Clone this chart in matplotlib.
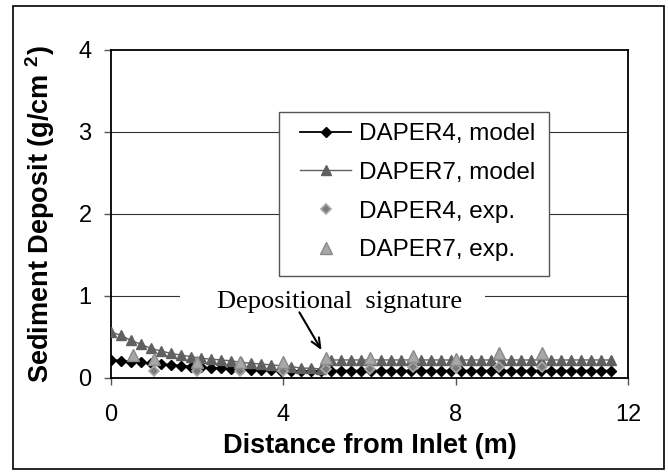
import matplotlib
matplotlib.use("Agg")
import matplotlib.pyplot as plt
from matplotlib.patches import Rectangle

plt.rcParams['font.family'] = ['Liberation Sans', 'DejaVu Sans']
plt.rcParams['mathtext.fontset'] = 'custom'
plt.rcParams['mathtext.rm'] = 'Liberation Sans'
plt.rcParams['mathtext.bf'] = 'Liberation Sans:bold'

# ---- data ----
x_model = [0.0, 0.23, 0.46, 0.70, 0.93, 1.16, 1.39, 1.62, 1.86, 2.09, 2.32, 2.55,
           2.78, 3.02, 3.25, 3.48, 3.71, 3.94, 4.18, 4.41, 4.64, 4.87, 5.10, 5.34,
           5.57, 5.80, 6.03, 6.26, 6.50, 6.73, 6.96, 7.19, 7.42, 7.66, 7.89, 8.12,
           8.35, 8.58, 8.82, 9.05, 9.28, 9.51, 9.74, 9.98, 10.21, 10.44, 10.67,
           10.90, 11.14, 11.37, 11.60]
daper4_model = [0.22, 0.21, 0.20, 0.19, 0.18, 0.17, 0.16, 0.15, 0.14, 0.13, 0.12, 0.12,
                0.11, 0.11, 0.10, 0.10, 0.10, 0.09, 0.09, 0.08, 0.08, 0.08, 0.09, 0.09,
                0.09, 0.09, 0.09, 0.09, 0.09, 0.09, 0.09, 0.09, 0.09, 0.09, 0.09, 0.09,
                0.09, 0.09, 0.09, 0.09, 0.09, 0.09, 0.09, 0.09, 0.09, 0.09, 0.09,
                0.09, 0.09, 0.09, 0.09]
daper7_model = [0.56, 0.52, 0.46, 0.41, 0.36, 0.33, 0.30, 0.28, 0.26, 0.24, 0.23, 0.22,
                0.21, 0.19, 0.18, 0.17, 0.16, 0.15, 0.14, 0.12, 0.12, 0.11, 0.22, 0.22,
                0.22, 0.22, 0.22, 0.22, 0.22, 0.22, 0.22, 0.22, 0.22, 0.22, 0.22, 0.22,
                0.22, 0.22, 0.22, 0.22, 0.22, 0.22, 0.22, 0.22, 0.22, 0.22, 0.22,
                0.22, 0.22, 0.22, 0.22]
x_exp4 = [1, 2, 3, 4, 5, 6, 7, 8, 9, 10]
daper4_exp = [0.08, 0.08, 0.08, 0.08, 0.11, 0.11, 0.13, 0.12, 0.13, 0.13]
x_exp7 = [0.5, 1, 2, 3, 4, 5, 6, 7, 8, 9, 10]
daper7_exp = [0.28, 0.23, 0.19, 0.20, 0.20, 0.24, 0.25, 0.27, 0.23, 0.30, 0.30]

labels = ['DAPER4, model', 'DAPER7, model', 'DAPER4, exp.', 'DAPER7, exp.']
x_ticks = [0, 4, 8, 12]
y_ticks = [0, 1, 2, 3, 4]
annot_text = 'Depositional  signature'

# ---- figure ----
W, H = 668, 476
fig = plt.figure(figsize=(W / 100, H / 100), dpi=100)
ax = fig.add_axes([111 / W, 1 - 378 / H, (628 - 111) / W, (378 - 50) / H])

def ax_x(px):
    return (px - 111) / (628 - 111)

def ax_y(py):
    return 1 - (py - 50) / (378 - 50)

# outer frame
fig.patches.append(Rectangle((13 / W, 1 - 469 / H), (664 - 13) / W, (469 - 6) / H,
                             transform=fig.transFigure, fill=False,
                             edgecolor='black', linewidth=1.2))

for gy in y_ticks[1:-1]:
    ax.axhline(gy, color='#333333', linewidth=0.8, zorder=0.5)

# white area behind annotation text
ax.add_patch(Rectangle((ax_x(180), ax_y(318)), ax_x(485) - ax_x(180), ax_y(282) - ax_y(318),
                       transform=ax.transAxes, facecolor='white', edgecolor='none', zorder=0.8))

ax.plot(x_model, daper4_model, color='black', linewidth=1.3, marker='D', markersize=5,
        markerfacecolor='black', markeredgecolor='black', label=labels[0], zorder=3)
ax.plot(x_model, daper7_model, color='#606060', linewidth=1.0, marker='^', markersize=6.5,
        markerfacecolor='#606060', markeredgecolor='#606060', label=labels[1], zorder=3)
ax.plot(x_exp4, daper4_exp, linestyle='none', marker='D', markersize=5.5,
        markerfacecolor='#7a7a7a', markeredgecolor='#a8a8a8', markeredgewidth=1.2,
        label=labels[2], zorder=4)
ax.plot(x_exp7, daper7_exp, linestyle='none', marker='^', markersize=9,
        markerfacecolor='#a8a8a8', markeredgecolor='#8a8a8a', markeredgewidth=1.0,
        label=labels[3], zorder=4)

ax.set_xlim(0, 12)
ax.set_ylim(0, 4)
ax.set_xticks(x_ticks)
ax.set_yticks(y_ticks)
ax.tick_params(axis='both', direction='out', length=5, width=1, labelsize=17,
               color='#555555')
ax.tick_params(axis='x', pad=14)
ax.tick_params(axis='y', pad=9)
for s in ax.spines.values():
    s.set_linewidth(1.3)
    s.set_color('black')

ax.set_xlabel('Distance from Inlet (m)', fontsize=19.5, fontweight='bold')
ax.xaxis.set_label_coords(0.5, -0.207)
ax.xaxis.label.set_verticalalignment('center')
ax.set_ylabel(r'Sediment Deposit (g/cm $\mathbf{^2}$)', fontsize=19.5, fontweight='bold')
ax.yaxis.set_label_coords(-0.137, 0.5)
ax.yaxis.label.set_verticalalignment('center')

# legend frame drawn as box, legend content frameless
ax.add_patch(Rectangle((ax_x(279), ax_y(276)), ax_x(549) - ax_x(279), ax_y(112) - ax_y(276),
                       transform=ax.transAxes, facecolor='white', edgecolor='#555555',
                       linewidth=1.0, zorder=4.5))
leg = ax.legend(loc='upper left', bbox_to_anchor=(ax_x(300), ax_y(123)), fontsize=17.5,
                frameon=False, handlelength=2.1, handletextpad=0.33, labelspacing=0.69,
                borderpad=0, borderaxespad=0)
leg.set_zorder(5)

ax.text(2.46, 0.856, annot_text, fontsize=19, family=['Liberation Serif', 'DejaVu Serif'],
        ha='left', va='baseline', zorder=5)
ax.annotate('', xy=(4.92, 0.31), xytext=(4.34, 0.83),
            arrowprops=dict(arrowstyle='->,head_length=0.7,head_width=0.3',
                            color='black', lw=1.5), zorder=5)

fig.savefig('out.png', dpi=100)
